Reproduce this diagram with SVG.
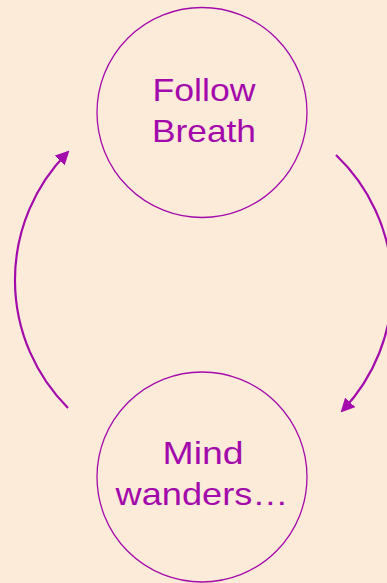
<svg xmlns="http://www.w3.org/2000/svg" width="387" height="583" viewBox="0 0 387 583">
<style>
.node{fill:none;stroke:#a30aab;stroke-width:1.3}
.lbl{font-family:"Liberation Sans",Arial,sans-serif;font-size:32px;fill:#a30aab;text-anchor:middle}
.conn{fill:none;stroke:#a30aab;stroke-width:2.2}
</style>
<defs>
<marker id="ah" markerUnits="userSpaceOnUse" markerWidth="14" markerHeight="14" viewBox="0 0 12 12" refX="9" refY="6" orient="auto">
<path d="M0,0 L12,6 L0,12 Z" fill="#a30aab"/>
</marker>
</defs>
<rect width="387" height="583" fill="#fdebda"/>
<g id="connectors">
<path class="conn" d="M 68 408 A 181 181 0 0 1 67 153" marker-end="url(#ah)"/>
<path class="conn" d="M 336 155 A 181 181 0 0 1 343 410" marker-end="url(#ah)"/>
</g>
<g id="follow-breath">
<circle class="node" cx="202" cy="112.5" r="105"/>
<text class="lbl" x="204" y="101" textLength="103" lengthAdjust="spacingAndGlyphs">Follow</text>
<text class="lbl" x="204" y="142" textLength="104" lengthAdjust="spacingAndGlyphs">Breath</text>
</g>
<g id="mind-wanders">
<circle class="node" cx="202" cy="477" r="105"/>
<text class="lbl" x="203" y="464" textLength="81" lengthAdjust="spacingAndGlyphs">Mind</text>
<text class="lbl" x="202" y="505" textLength="173" lengthAdjust="spacingAndGlyphs">wanders…</text>
</g>
</svg>
